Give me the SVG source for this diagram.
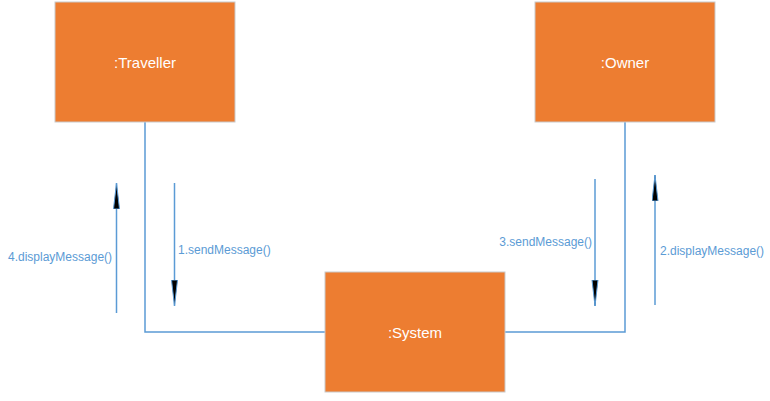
<svg xmlns="http://www.w3.org/2000/svg" width="770" height="401" viewBox="0 0 770 401">
<defs>
<style>
.node rect{fill:#ED7D31;stroke:#C9C9C9;stroke-width:1}
.node text{font-family:"Liberation Sans",Arial,sans-serif;font-size:15px;fill:#FFFFFF;text-anchor:middle;dominant-baseline:central}
.conn{fill:none;stroke:#5B9BD5;stroke-width:1.5}
.msg{fill:none;stroke:#5B9BD5;stroke-width:1.5}
.lbl{font-family:"Liberation Sans",Arial,sans-serif;font-size:12px;fill:#5B9BD5;dominant-baseline:central}
</style>
<marker id="ah" markerUnits="userSpaceOnUse" markerWidth="30" markerHeight="10" refX="26" refY="3.5" orient="auto">
<path d="M0,0.5 L26,3.5 L0,6.5 Z" fill="#000000" stroke="#5B9BD5" stroke-width="1"/>
</marker>
</defs>
<g id="connectors">
<polyline class="conn" points="145,122 145,332 325,332"/>
<polyline class="conn" points="625,122 625,332 505,332"/>
<line class="msg" x1="174.5" y1="183" x2="174.5" y2="306" marker-end="url(#ah)"/>
<line class="msg" x1="116.5" y1="313" x2="116.5" y2="183" marker-end="url(#ah)"/>
<line class="msg" x1="595" y1="179" x2="595" y2="306" marker-end="url(#ah)"/>
<line class="msg" x1="655" y1="305" x2="655" y2="175" marker-end="url(#ah)"/>
<text class="lbl" x="178" y="250">1.sendMessage()</text>
<text class="lbl" x="8" y="257">4.displayMessage()</text>
<text class="lbl" x="592" y="242" text-anchor="end">3.sendMessage()</text>
<text class="lbl" x="660" y="251">2.displayMessage()</text>
</g>
<g id="traveller" class="node">
<rect x="55" y="2" width="180" height="120"/>
<text x="145" y="62">:Traveller</text>
</g>
<g id="owner" class="node">
<rect x="535" y="2" width="180" height="120"/>
<text x="625" y="62">:Owner</text>
</g>
<g id="system" class="node">
<rect x="325" y="272" width="180" height="120"/>
<text x="415" y="332">:System</text>
</g>
</svg>
